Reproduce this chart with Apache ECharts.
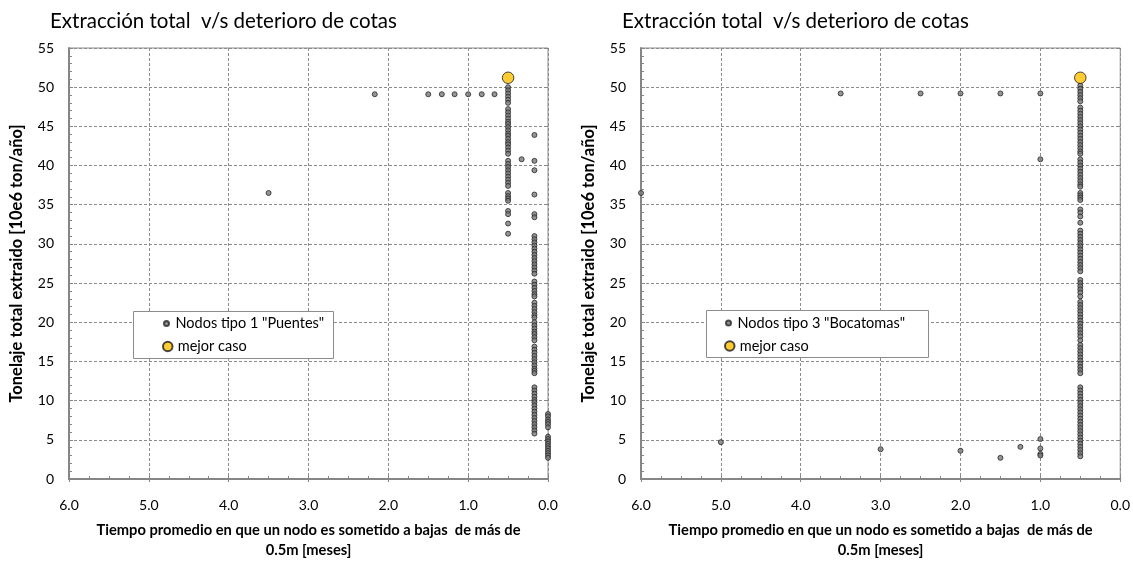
<!DOCTYPE html>
<html>
<head>
<meta charset="utf-8">
<script src="https://cdn.jsdelivr.net/npm/echarts@6/dist/echarts.min.js"></script>
<style>
  html, body { margin: 0; padding: 0; background: #fff; }
  #chart { width: 1133px; height: 565px; }
</style>
</head>
<body>
<div id="chart"></div>
<script>
// ---- texts ----
const chartTitle = 'Extracción total  v/s deterioro de cotas';
const xAxisTitle = 'Tiempo promedio en que un nodo es sometido a bajas  de más de\n0.5m [meses]';
const yAxisTitle = 'Tonelaje total extraido [10e6 ton/año]';
const puentesName = 'Nodos tipo 1 "Puentes"';
const bocatomasName = 'Nodos tipo 3 "Bocatomas"';
const bestName = 'mejor caso';

// ---- axis ranges ----
const tiempoRange = [0, 6];      // meses (drawn reversed)
const tonelajeRange = [0, 55];   // 10e6 ton/año

// ---- Nodos tipo 1 "Puentes": isolated points [tiempo, tonelaje] ----
const puentesSueltos = [
  [3.5, 36.5], [2.17, 49.1], [1.5, 49.1], [1.33, 49.1], [1.17, 49.1],
  [1.0, 49.1], [0.83, 49.1], [0.67, 49.1], [0.33, 40.8]
];
// tonelaje of nodes at tiempo = 0.5
const puentesT050 = [
  50.0, 49.6, 49.2, 48.8, 48.4, 48.0,
  47.2, 46.8, 46.4, 46.0, 45.6, 45.3, 44.9, 44.5, 44.1, 43.8, 43.4, 43.0, 42.7, 42.3, 41.9, 41.5,
  40.6, 40.2, 39.8, 39.4, 39.0, 38.6, 38.2, 37.8, 37.4,
  36.5, 36.1, 35.8, 35.5,
  34.2, 33.8, 32.6, 31.3
];
// tonelaje of nodes at tiempo = 0.17
const puentesT017 = [
  43.9, 40.6, 39.4, 36.3, 33.8, 33.4,
  31.0, 30.6, 30.2, 29.8, 29.4, 29.0, 28.6, 28.2, 27.8, 27.4, 27.0, 26.6, 26.2,
  25.2, 24.8, 24.4, 24.0, 23.6, 23.3,
  22.5, 22.1, 21.7, 21.3, 20.9, 20.6,
  20.0, 19.6, 19.2, 18.8, 18.5, 18.1, 17.7,
  16.9, 16.5, 16.1, 15.7, 15.3, 14.9, 14.5, 14.1, 13.8, 13.5,
  11.7, 11.3, 10.9, 10.5, 10.1, 9.8, 9.4, 9.0, 8.6, 8.2, 7.8, 7.4, 7.0, 6.6, 6.2, 5.8
];
// tonelaje of nodes at tiempo = 0.0
const puentesT000 = [
  8.3, 8.0, 7.6, 7.3, 7.0, 6.6,
  5.4, 5.1, 4.8, 4.5, 4.2, 3.9, 3.6, 3.3, 3.0, 2.7
];

// ---- Nodos tipo 3 "Bocatomas": isolated points [tiempo, tonelaje] ----
const bocatomasSueltos = [
  [6.0, 36.5], [3.5, 49.2], [2.5, 49.2], [2.0, 49.2], [1.5, 49.2], [1.0, 49.2], [1.0, 40.8],
  [5.0, 4.7], [3.0, 3.8], [2.0, 3.6], [1.5, 2.7], [1.25, 4.1],
  [1.0, 5.1], [1.0, 3.9], [1.0, 3.2], [1.0, 3.0]
];
// tonelaje of nodes at tiempo = 0.5
const bocatomasT050 = [
  50.2, 49.8, 49.4, 49.0, 48.6, 48.2,
  47.4, 47.0, 46.6, 46.2, 45.8, 45.4, 45.0, 44.6, 44.2, 43.8, 43.4, 43.0, 42.6, 42.2, 41.8, 41.5,
  40.8, 40.4, 40.0, 39.6, 39.2, 38.8, 38.4, 38.0, 37.6, 37.3,
  36.5, 36.2, 35.9, 35.6,
  34.4, 34.0, 33.5, 32.7,
  31.7, 31.3, 30.9, 30.5, 30.1, 29.7, 29.3, 28.9, 28.5, 28.1, 27.7, 27.3, 26.9, 26.5,
  25.4, 25.0, 24.6, 24.2, 23.8, 23.3,
  22.6, 22.2, 21.8, 21.4, 21.0, 20.6,
  20.2, 19.8, 19.4, 19.0, 18.6, 18.2, 17.7,
  17.1, 16.7, 16.3, 15.9, 15.5, 15.1, 14.7, 14.3, 13.9, 13.5,
  11.7, 11.3, 10.9, 10.5, 10.1, 9.7, 9.3, 8.9, 8.5, 8.1, 7.7, 7.3, 6.9, 6.5, 6.1,
  5.7, 5.3, 4.9, 4.5, 4.1, 3.7, 3.3, 2.9
];

// ---- best case [tiempo, tonelaje] ----
const puentesMejor = [[0.5, 51.2]];
const bocatomasMejor = [[0.5, 51.2]];

// ---- styling ----
const FONT = 'Lato, "Open Sans", sans-serif';
const AXIS_GRAY = '#868686';
const GRID_GRAY = '#8c8c8c';

const column = (t, values) => values.map(v => [t, v]);
const puentesData = puentesSueltos
  .concat(column(0.5, puentesT050))
  .concat(column(0.17, puentesT017))
  .concat(column(0.0, puentesT000));
const bocatomasData = bocatomasSueltos.concat(column(0.5, bocatomasT050));

const grids = [
  { left: 69, top: 48, width: 479, height: 440 },
  { left: 641, top: 48, width: 480, height: 440 }
];

function mainX(g) {
  return {
    type: 'value', gridIndex: g, min: tiempoRange[0], max: tiempoRange[1], interval: 1,
    inverse: true, position: 'bottom',
    axisLine: { show: true, onZero: false, lineStyle: { color: AXIS_GRAY, width: 2 } },
    axisTick: { show: true, inside: true, length: 4, lineStyle: { color: AXIS_GRAY, width: 1 } },
    minorTick: { show: true, splitNumber: 4, length: 3, lineStyle: { color: AXIS_GRAY, width: 1 } },
    axisLabel: { margin: 19, color: '#000', fontFamily: FONT, fontSize: 14, formatter: v => v.toFixed(1) },
    splitLine: { show: true, lineStyle: { color: GRID_GRAY, width: 1, type: [3, 2] } },
    name: xAxisTitle, nameLocation: 'middle', nameGap: 41,
    nameTextStyle: { fontFamily: FONT, fontWeight: 'bold', fontSize: 14.7, color: '#000', lineHeight: 20 }
  };
}
function outerTicksX(g) {
  return {
    type: 'value', gridIndex: g, min: tiempoRange[0], max: tiempoRange[1], interval: 1,
    inverse: true, position: 'bottom',
    axisLine: { show: false },
    axisTick: { show: true, inside: false, length: 3, lineStyle: { color: AXIS_GRAY, width: 1 } },
    axisLabel: { show: false }, splitLine: { show: false }
  };
}
function mainY(g) {
  return {
    type: 'value', gridIndex: g, min: tonelajeRange[0], max: tonelajeRange[1], interval: 5,
    position: 'left',
    axisLine: { show: true, onZero: false, lineStyle: { color: AXIS_GRAY, width: 2 } },
    axisTick: { show: true, inside: true, length: 4, lineStyle: { color: AXIS_GRAY, width: 1 } },
    minorTick: { show: true, splitNumber: 5, length: 3, lineStyle: { color: AXIS_GRAY, width: 1 } },
    axisLabel: { margin: 15, color: '#000', fontFamily: FONT, fontSize: 14 },
    splitLine: { show: true, lineStyle: { color: GRID_GRAY, width: 1, type: [3, 2] } },
    name: yAxisTitle, nameLocation: 'middle', nameGap: 44, nameRotate: 90,
    nameTextStyle: { fontFamily: FONT, fontWeight: 'bold', fontSize: 16.5, color: '#000' }
  };
}
function outerTicksY(g) {
  return {
    type: 'value', gridIndex: g, min: tonelajeRange[0], max: tonelajeRange[1], interval: 5,
    position: 'left',
    axisLine: { show: false },
    axisTick: { show: true, inside: false, length: 4, lineStyle: { color: AXIS_GRAY, width: 1 } },
    axisLabel: { show: false }, splitLine: { show: false }
  };
}

const nodeStyle = { color: '#7a7a7a', borderColor: '#262626', borderWidth: 1 };
const bestStyle = { color: '#FFC000', borderColor: '#1a1a1a', borderWidth: 1 };

function nodeSeries(name, xi, data) {
  return {
    type: 'scatter', name, xAxisIndex: xi, yAxisIndex: xi, data,
    symbol: 'circle', symbolSize: 5, itemStyle: nodeStyle, z: 3, clip: false,
    emphasis: { disabled: true }
  };
}
function bestSeries(xi, data) {
  return {
    type: 'scatter', name: bestName, xAxisIndex: xi, yAxisIndex: xi, data,
    symbol: 'circle', symbolSize: 11.5, itemStyle: bestStyle, z: 4, clip: false,
    emphasis: { disabled: true }
  };
}

const legendText = { fontFamily: FONT, fontSize: 14.5, color: '#000' };
function legendRow(name, left, top, size, width) {
  return {
    data: [name], left, top, padding: 0, orient: 'vertical',
    itemWidth: width, itemHeight: size, selectedMode: false,
    textStyle: legendText, z: 10
  };
}
function legendBox(x, y, w, h) {
  return {
    type: 'rect', z: 8, silent: true,
    shape: { x: x + 0.5, y: y + 0.5, width: w, height: h },
    style: { fill: '#fff', stroke: GRID_GRAY, lineWidth: 1 }
  };
}

const titleStyle = { fontFamily: FONT, fontSize: 20.5, fontWeight: 'normal', color: '#000' };

const option = {
  animation: false,
  backgroundColor: '#fff',
  title: [
    { text: chartTitle, left: 50, top: 11, padding: 0, textStyle: titleStyle },
    { text: chartTitle, left: 622, top: 11, padding: 0, textStyle: titleStyle }
  ],
  grid: grids.map(g => Object.assign({ show: true, borderColor: GRID_GRAY, borderWidth: 1, backgroundColor: 'transparent' }, g)),
  xAxis: [mainX(0), outerTicksX(0), mainX(1), outerTicksX(1)],
  yAxis: [mainY(0), outerTicksY(0), mainY(1), outerTicksY(1)],
  legend: [
    legendRow(puentesName, 163, 316, 5, 8),
    legendRow(bestName, 162, 339, 9.5, 10),
    legendRow(bocatomasName, 725, 315.5, 5, 8),
    legendRow(bestName, 724, 338.5, 9.5, 10)
  ],
  graphic: [
    legendBox(133, 311, 200, 47),
    legendBox(706, 310, 222, 47)
  ],
  series: [
    nodeSeries(puentesName, 0, puentesData),
    bestSeries(0, puentesMejor),
    nodeSeries(bocatomasName, 2, bocatomasData),
    bestSeries(2, bocatomasMejor)
  ]
};

const chart = echarts.init(document.getElementById('chart'), null, { renderer: 'canvas' });
chart.setOption(option);
</script>
</body>
</html>
